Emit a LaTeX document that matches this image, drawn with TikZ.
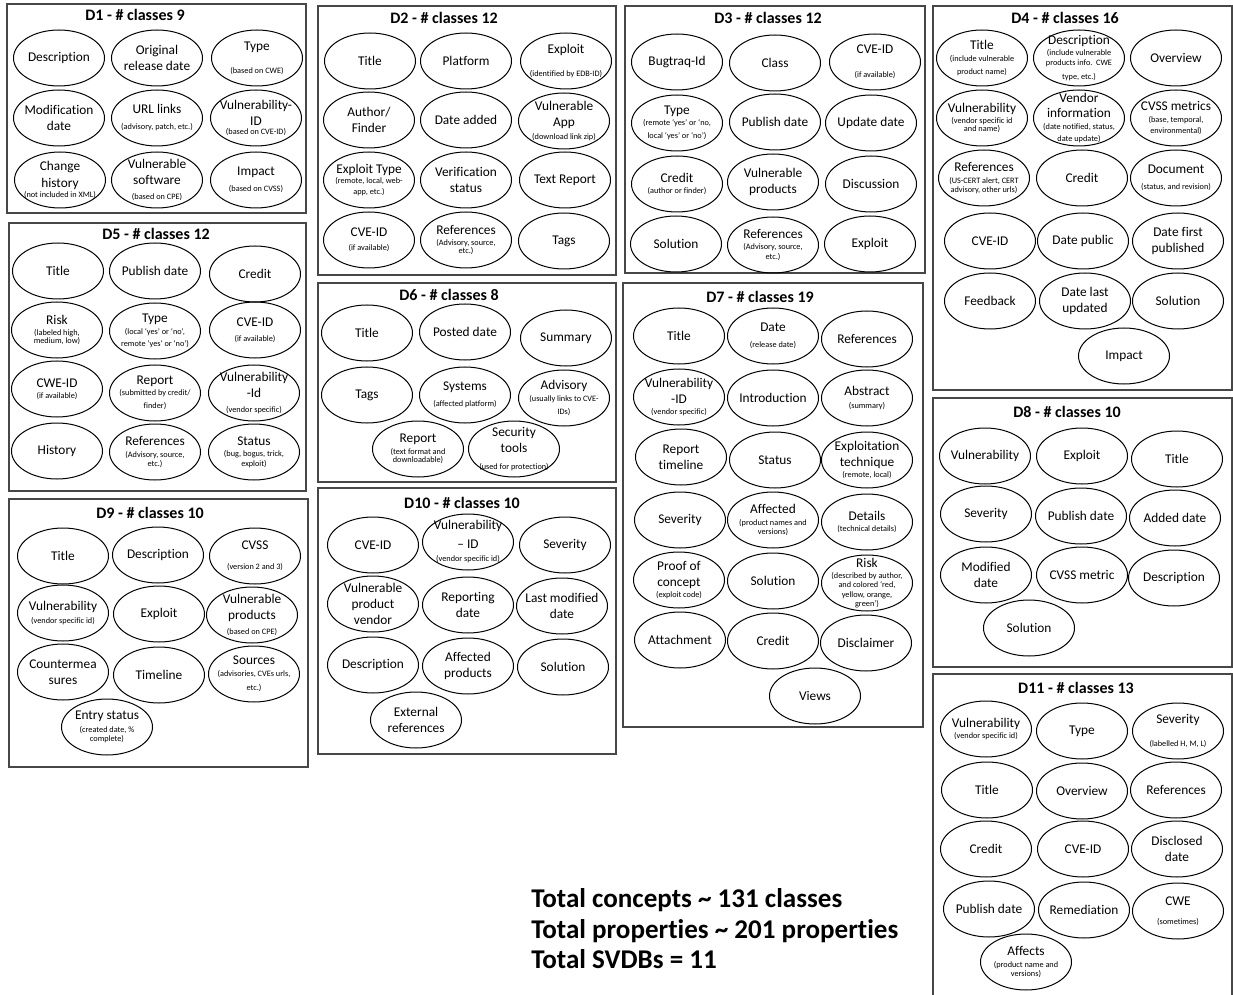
\documentclass[tikz,border=0pt]{standalone}
\usepackage{fontspec}
\setmainfont{Carlito}[Ligatures=NoCommon]
% small explanatory text under a property name
\newcommand\sm[1]{{\fontsize{6.2}{7.4}\selectfont #1}}
% a property: named text node with an ellipse of fixed size around it
\newcommand\ellnode[4]{%
  \node[proptext] (#1) at (#2,#3) {#4};
  \draw[propell] (#2,#3) ellipse [x radius=45.5, y radius=28];}
\begin{document}
\begin{tikzpicture}[x=0.75pt,y=-0.75pt,
  dbbox/.style={draw=black!72,line width=1pt},
  dbtitle/.style={font=\bfseries\fontsize{12}{14}\selectfont,inner sep=0},
  proptext/.style={align=center,inner sep=0,font=\fontsize{10}{12}\selectfont},
  propell/.style={draw=black,line width=0.75pt},
  total/.style={anchor=base west,inner sep=0,font=\bfseries\fontsize{20.3}{24}\selectfont}]

\fill[white] (0,0) rectangle (1233,995);
\useasboundingbox (0,0) rectangle (1233,995);

% ---------------- D1 ----------------
\draw[dbbox] (7,4) rectangle (306,213);
\node[dbtitle] (t1) at (135,15) {D1 - \# classes 9};
\ellnode{d1desc}{59}{58}{Description}
\ellnode{d1orig}{157}{58}{Original\\release date}
\ellnode{d1type}{257}{58}{Type\\[5pt]\sm{(based on CWE)}}
\ellnode{d1mod}{59}{118}{Modification\\date}
\ellnode{d1url}{157}{118}{URL links\\[0pt]\sm{(advisory, patch, etc.)}}
\ellnode{d1vid}{256}{118}{Vulnerability-\\ID\\[-5.5pt]\sm{(based on CVE-ID)}}
\ellnode{d1chg}{60}{180}{Change\\[1pt]history\\[-4.8pt]\sm{(not included in XML)}}
\ellnode{d1vsw}{157}{180}{Vulnerable\\software\\[-0.5pt]\sm{(based on CPE)}}
\ellnode{d1imp}{256}{180}{Impact\\[0pt]\sm{(based on CVSS)}}

% ---------------- D2 ----------------
\draw[dbbox] (318,6) rectangle (616,275);
\node[dbtitle] (t2) at (444,18) {D2 - \# classes 12};
\ellnode{d2title}{370}{61}{Title}
\ellnode{d2plat}{466}{61}{Platform}
\ellnode{d2expl}{566}{61}{Exploit\\[5.7pt]\sm{(identified by EDB-ID)}}
\ellnode{d2auth}{369}{120}{Author/\\Finder}
\ellnode{d2date}{466}{120}{Date added}
\ellnode{d2vapp}{564}{121}{Vulnerable\\App\\[-1.8pt]\sm{(download link zip)}}
\ellnode{d2etype}{369}{180}{Exploit Type\\[-4.3pt]\sm{(remote, local, web-}\\[-3.5pt]\sm{app, etc.)}}
\ellnode{d2verif}{466}{180}{Verification\\status}
\ellnode{d2text}{565}{180}{Text Report}
\ellnode{d2cve}{369}{240}{CVE-ID\\[-1.8pt]\sm{(if available)}}
\ellnode{d2refs}{466}{240}{References\\[-3.8pt]\sm{(Advisory, source,}\\[-5.5pt]\sm{etc.)}}
\ellnode{d2tags}{564}{241}{Tags}

% ---------------- D3 ----------------
\draw[dbbox] (625,6) rectangle (925,273);
\node[dbtitle] (t3) at (768,18) {D3 - \# classes 12};
\ellnode{d3bug}{677}{62}{Bugtraq-Id}
\ellnode{d3class}{775}{63}{Class}
\ellnode{d3cve}{875}{62}{CVE-ID\\[5.7pt]\sm{(if available)}}
\ellnode{d3type}{677}{123}{Type\\[-3.8pt]\sm{(remote ‘yes’ or ‘no,}\\[-2pt]\sm{local ‘yes’ or ‘no’)}}
\ellnode{d3pub}{775}{122}{Publish date}
\ellnode{d3upd}{871}{123}{Update date}
\ellnode{d3cred}{677}{184}{Credit\\[-3.8pt]\sm{(author or finder)}}
\ellnode{d3vprod}{773}{182}{Vulnerable\\products}
\ellnode{d3disc}{871}{184}{Discussion}
\ellnode{d3sol}{676}{244}{Solution}
\ellnode{d3refs}{773}{245}{References\\[-4.3pt]\sm{(Advisory, source,}\\[-4.5pt]\sm{etc.)}}
\ellnode{d3expl}{870}{244}{Exploit}

% ---------------- D4 ----------------
\draw[dbbox] (933,6) rectangle (1232,390);
\node[dbtitle] (t4) at (1065,18) {D4 - \# classes 16};
\ellnode{d4title}{982}{58}{Title\\[-3.1pt]\sm{(include vulnerable}\\[-2pt]\sm{product name)}}
\ellnode{d4desc}{1079}{58}{Description\\[-3.5pt]\sm{(include vulnerable}\\[-4.5pt]\sm{products info.\ \ CWE}\\[-2pt]\sm{type, etc.)}}
\ellnode{d4over}{1176}{58}{Overview}
\ellnode{d4vuln}{982}{118}{Vulnerability\\[-3.8pt]\sm{(vendor specific id}\\[-5.75pt]\sm{and name)}}
\ellnode{d4vend}{1079}{118}{Vendor\\[-0.75pt]information\\[-3.1pt]\sm{(date notified, status,}\\[-2.5pt]\sm{date update)}}
\ellnode{d4cvss}{1176}{118}{CVSS metrics\\[-3.1pt]\sm{(base, temporal,}\\[-3.5pt]\sm{environmental)}}
\ellnode{d4refs}{984}{178}{References\\[-3.1pt]\sm{(US-CERT alert, CERT}\\[-5.25pt]\sm{advisory, other urls)}}
\ellnode{d4cred}{1082}{178}{Credit}
\ellnode{d4doc}{1176}{178}{Document\\[0.2pt]\sm{(status, and revision)}}
\ellnode{d4cve}{990}{241}{CVE-ID}
\ellnode{d4dpub}{1083}{241}{Date public}
\ellnode{d4dfirst}{1178}{241}{Date first\\published}
\ellnode{d4feed}{990}{301}{Feedback}
\ellnode{d4dlast}{1085}{301}{Date last\\updated}
\ellnode{d4sol}{1178}{301}{Solution}
\ellnode{d4imp}{1124}{356}{Impact}

% ---------------- D5 ----------------
\draw[dbbox] (9,223) rectangle (306,491);
\node[dbtitle] (t5) at (156,234) {D5 - \# classes 12};
\ellnode{d5title}{58}{271}{Title}
\ellnode{d5pub}{155}{271}{Publish date}
\ellnode{d5cred}{255}{274}{Credit}
\ellnode{d5risk}{57}{330}{Risk\\[-3.5pt]\sm{(labeled high,}\\[-6pt]\sm{medium, low)}}
\ellnode{d5type}{155}{331}{Type\\[-3.1pt]\sm{(local ‘yes’ or ‘no’,}\\[-2.5pt]\sm{remote ‘yes’ or ‘no’)}}
\ellnode{d5cve}{255}{330}{CVE-ID\\[-1pt]\sm{(if available)}}
\ellnode{d5cwe}{57}{389}{CWE-ID\\[-3.8pt]\sm{(if available)}}
\ellnode{d5rep}{155}{393}{Report\\[-4.3pt]\sm{(submitted by credit/}\\[-2pt]\sm{finder)}}
\ellnode{d5vid}{254}{393}{Vulnerability\\-Id\\[-0.8pt]\sm{(vendor specific)}}
\ellnode{d5hist}{57}{451}{History}
\ellnode{d5refs}{155}{452}{References\\[-3.3pt]\sm{(Advisory, source,}\\[-5pt]\sm{etc.)}}
\ellnode{d5stat}{254}{452}{Status\\[-3.3pt]\sm{(bug, bogus, trick,}\\[-5pt]\sm{exploit)}}

% ---------------- D6 ----------------
\draw[dbbox] (318,283) rectangle (616,482);
\node[dbtitle] (t6) at (449,295) {D6 - \# classes 8};
\ellnode{d6title}{367}{333}{Title}
\ellnode{d6posted}{465}{332}{Posted date}
\ellnode{d6sum}{566}{338}{Summary}
\ellnode{d6tags}{367}{395}{Tags}
\ellnode{d6sys}{465}{395}{Systems\\[0.2pt]\sm{(affected platform)}}
\ellnode{d6adv}{564}{398}{Advisory\\[-2.8pt]\sm{(usually links to CVE-}\\[-2.25pt]\sm{IDs)}}
\ellnode{d6rep}{418}{449}{Report\\[-3.1pt]\sm{(text format and}\\[-5.5pt]\sm{downloadable)}}
\ellnode{d6sec}{514}{449}{Security\\tools\\[0.7pt]\sm{(used for protection)}}

% ---------------- D7 ----------------
\draw[dbbox] (623,283) rectangle (923,727);
\node[dbtitle] (t7) at (760,297) {D7 - \# classes 19};
\ellnode{d7title}{679}{336}{Title}
\ellnode{d7date}{773}{336}{Date\\[0.2pt]\sm{(release date)}}
\ellnode{d7refs}{867}{339}{References}
\ellnode{d7vid}{679}{397}{Vulnerability\\-ID\\[-3.8pt]\sm{(vendor specific)}}
\ellnode{d7intro}{773}{398}{Introduction}
\ellnode{d7abs}{867}{398}{Abstract\\[-1.8pt]\sm{(summary)}}
\ellnode{d7rt}{681}{457}{Report\\timeline}
\ellnode{d7stat}{775}{460}{Status}
\ellnode{d7expl}{867}{460}{Exploitation\\technique\\[-3.8pt]\sm{(remote, local)}}
\ellnode{d7sev}{680}{520}{Severity}
\ellnode{d7aff}{773}{520}{Affected\\[-3.5pt]\sm{(product names and}\\[-5.25pt]\sm{versions)}}
\ellnode{d7det}{867}{522}{Details\\[-3.8pt]\sm{(technical details)}}
\ellnode{d7poc}{679}{580}{Proof of\\[0.5pt]concept\\[-4pt]\sm{(exploit code)}}
\ellnode{d7sol}{773}{581}{Solution}
\ellnode{d7risk}{867}{583}{Risk\\[-3.8pt]\sm{(described by author,}\\[-5pt]\sm{and colored ‘red,}\\[-5pt]\sm{yellow, orange,}\\[-5pt]\sm{green’)}}
\ellnode{d7att}{680}{640}{Attachment}
\ellnode{d7cred}{773}{641}{Credit}
\ellnode{d7disc}{866}{643}{Disclaimer}
\ellnode{d7views}{815}{696}{Views}

% ---------------- D8 ----------------
\draw[dbbox] (933,398) rectangle (1232,667);
\node[dbtitle] (t8) at (1067,412) {D8 - \# classes 10};
\ellnode{d8vuln}{985}{456}{Vulnerability}
\ellnode{d8expl}{1082}{456}{Exploit}
\ellnode{d8title}{1177}{459}{Title}
\ellnode{d8sev}{986}{514}{Severity}
\ellnode{d8pub}{1081}{516}{Publish date}
\ellnode{d8added}{1175}{518}{Added date}
\ellnode{d8mod}{986}{575}{Modified\\date}
\ellnode{d8cvss}{1082}{575}{CVSS metric}
\ellnode{d8desc}{1174}{578}{Description}
\ellnode{d8sol}{1029}{628}{Solution}

% ---------------- D9 ----------------
\draw[dbbox] (9,499) rectangle (308,767);
\node[dbtitle] (t9) at (150,513) {D9 - \# classes 10};
\ellnode{d9title}{63}{556}{Title}
\ellnode{d9desc}{158}{555}{Description}
\ellnode{d9cvss}{255}{556}{CVSS\\[3.2pt]\sm{(version 2 and 3)}}
\ellnode{d9vuln}{63}{613}{Vulnerability\\[-2.8pt]\sm{(vendor specific id)}}
\ellnode{d9expl}{159}{614}{Exploit}
\ellnode{d9vprod}{252}{615}{Vulnerable\\products\\[-1pt]\sm{(based on CPE)}}
\ellnode{d9count}{63}{672}{Countermea\\sures}
\ellnode{d9time}{159}{675}{Timeline}
\ellnode{d9src}{254}{674}{Sources\\[-3.3pt]\sm{(advisories, CVEs urls,}\\[-1.25pt]\sm{etc.)}}
\ellnode{d9entry}{107}{727}{Entry status\\[-2.8pt]\sm{(created date, \%}\\[-5.25pt]\sm{complete)}}

% ---------------- D10 ----------------
\draw[dbbox] (318,488) rectangle (616,754);
\node[dbtitle] (t10) at (462,503) {D10 - \# classes 10};
\ellnode{d10cve}{373}{545}{CVE-ID}
\ellnode{d10vid}{468}{542}{Vulnerability\\[1.75pt]\textendash{} ID\\[-1.8pt]\sm{(vendor specific id)}}
\ellnode{d10sev}{565}{545}{Severity}
\ellnode{d10vpv}{373}{604}{Vulnerable\\product\\vendor}
\ellnode{d10rep}{468}{605}{Reporting\\date}
\ellnode{d10last}{562}{606}{Last modified\\date}
\ellnode{d10desc}{373}{665}{Description}
\ellnode{d10aff}{468}{666}{Affected\\products}
\ellnode{d10sol}{563}{667}{Solution}
\ellnode{d10ext}{416}{720}{External\\references}

% ---------------- D11 (runs off the lower edge) ----------------
\draw[dbbox] (933,1000) |- (1232,674) -- (1232,1000);
\node[dbtitle] (t11) at (1076,688) {D11 - \# classes 13};
\ellnode{d11vuln}{986}{729}{Vulnerability\\[-3.8pt]\sm{(vendor specific id)}}
\ellnode{d11type}{1082}{731}{Type}
\ellnode{d11sev}{1178}{731}{Severity\\[5.7pt]\sm{(labelled H, M, L)}}
\ellnode{d11title}{987}{790}{Title}
\ellnode{d11over}{1082}{791}{Overview}
\ellnode{d11refs}{1176}{790}{References}
\ellnode{d11cred}{986}{849}{Credit}
\ellnode{d11cve}{1083}{849}{CVE-ID}
\ellnode{d11disc}{1177}{849}{Disclosed\\date}
\ellnode{d11pub}{989}{909}{Publish date}
\ellnode{d11rem}{1084}{910}{Remediation}
\ellnode{d11cwe}{1178}{911}{CWE\\[2pt]\sm{(sometimes)}}
\ellnode{d11aff}{1026}{962}{Affects\\[-3.1pt]\sm{(product name and}\\[-5.25pt]\sm{versions)}}

% ---------------- totals ----------------
\node[total] (tot1) at (531,907) {Total concepts \textasciitilde{} 131 classes};
\node[total] (tot2) at (531,938) {Total properties \textasciitilde{} 201 properties};
\node[total] (tot3) at (531,968) {Total SVDBs = 11};
\end{tikzpicture}
\end{document}
